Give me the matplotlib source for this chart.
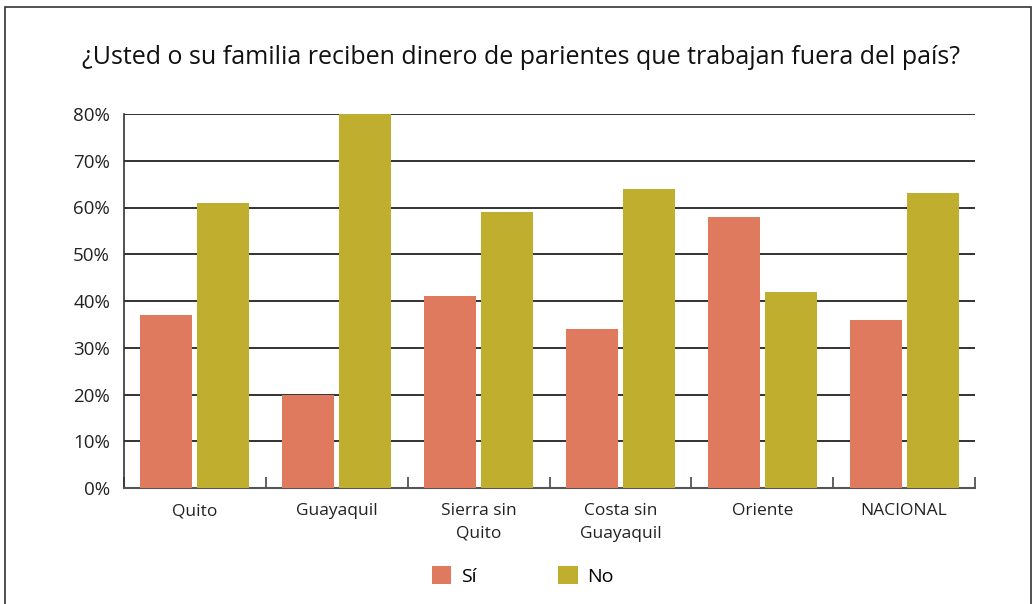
import numpy as np
import matplotlib.pyplot as plt
from matplotlib.patches import Rectangle

categories = ['Quito', 'Guayaquil', 'Sierra sin\nQuito', 'Costa sin\nGuayaquil', 'Oriente', 'NACIONAL']
si = [37, 20, 41, 34, 58, 36]
no = [61, 80, 59, 64, 42, 63]
yticks = [0, 10, 20, 30, 40, 50, 60, 70, 80]

plt.rcParams['font.family'] = ['Open Sans', 'DejaVu Sans']

fig = plt.figure(figsize=(10.33, 6.04), dpi=100)
fig.patches.append(Rectangle((5 / 1033, -0.01), 1026 / 1033, 1 - 7 / 604 + 0.01,
                             transform=fig.transFigure, fill=False,
                             edgecolor='#333333', linewidth=1.2))

ax = fig.add_axes([124 / 1033, 1 - 488 / 604, 851 / 1033, 374 / 604])

x = np.arange(len(categories))
w = 0.367
gap = 0.035
ax.bar(x - w / 2 - gap / 2, si, w, color='#DF7A5E', label='Sí', zorder=3)
ax.bar(x + w / 2 + gap / 2, no, w, color='#C0AF2E', label='No', zorder=3)

ax.set_xlim(-0.5, len(categories) - 0.5)
ax.set_ylim(0, 80)
ax.set_yticks(yticks)
ax.set_yticklabels([f'{v}%' for v in yticks], fontsize=13.5, color='#222222')
ax.tick_params(axis='y', length=0, pad=10)
for v in yticks[1:]:
    ax.axhline(v, color='#222222', linewidth=1.3, zorder=1)

ax.set_xticks(x)
ax.set_xticklabels(categories, fontsize=12.5, color='#222222', linespacing=1.55)
ax.tick_params(axis='x', which='major', length=0, pad=11)
ax.set_xticks(np.arange(-0.5, len(categories)), minor=True)
ax.tick_params(axis='x', which='minor', direction='in', length=8, width=1.2, color='#444444')

for s in ['top', 'right']:
    ax.spines[s].set_visible(False)
ax.spines['left'].set_color('#333333')
ax.spines['left'].set_linewidth(1.2)
ax.spines['bottom'].set_color('#555555')
ax.spines['bottom'].set_linewidth(1.5)

fig.text(521 / 1033, 1 - 58 / 604, '¿Usted o su familia reciben dinero de parientes que trabajan fuera del país?',
         ha='center', va='center', fontsize=18, color='#111111')

fig.legend(loc='center', bbox_to_anchor=(523 / 1033, 1 - 576 / 604), ncol=2, frameon=False,
           fontsize=14, handlelength=1.0, handleheight=1.0, columnspacing=4.2, handletextpad=0.5)

fig.savefig('out.png', dpi=100)
